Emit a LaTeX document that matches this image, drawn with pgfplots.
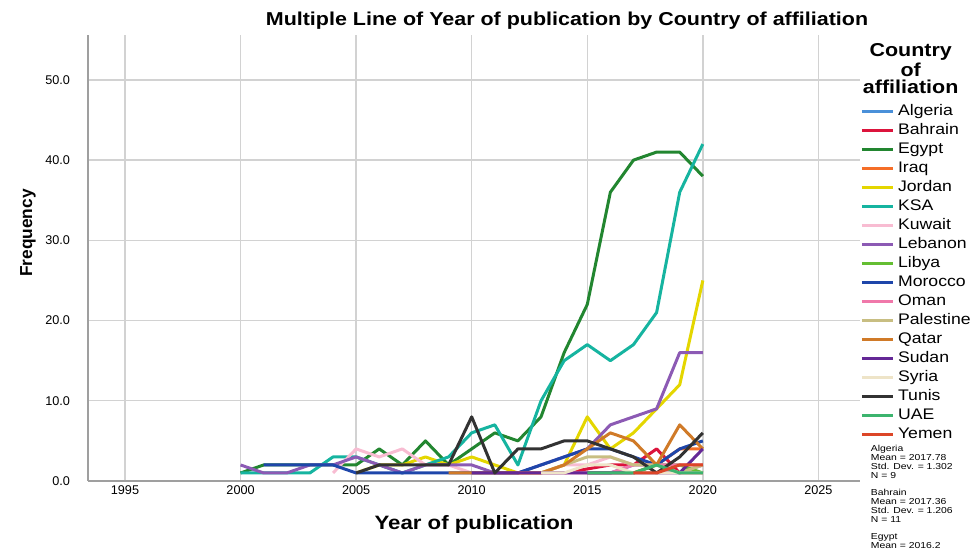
\documentclass[border=0pt]{standalone}
\usepackage{fontspec}
\setmainfont{Liberation Sans}
\usepackage{pgfplots}
\pgfplotsset{compat=1.18}

\definecolor{cAlg}{RGB}{74,144,217}
\definecolor{cBah}{RGB}{220,20,60}
\definecolor{cEgy}{RGB}{34,134,48}
\definecolor{cIrq}{RGB}{245,110,40}
\definecolor{cJor}{RGB}{228,214,0}
\definecolor{cKSA}{RGB}{22,180,160}
\definecolor{cKuw}{RGB}{248,188,210}
\definecolor{cLeb}{RGB}{140,90,180}
\definecolor{cLib}{RGB}{100,190,50}
\definecolor{cMor}{RGB}{30,70,170}
\definecolor{cOma}{RGB}{240,120,170}
\definecolor{cPal}{RGB}{200,190,130}
\definecolor{cQat}{RGB}{208,122,40}
\definecolor{cSud}{RGB}{100,40,150}
\definecolor{cSyr}{RGB}{238,228,200}
\definecolor{cTun}{RGB}{50,50,50}
\definecolor{cUAE}{RGB}{60,180,110}
\definecolor{cYem}{RGB}{220,70,40}

\newcommand\wide[1]{\scalebox{1.15}[1]{#1}}

\begin{document}
\begin{tikzpicture}
\useasboundingbox (0,0) rectangle (728.25pt,411.75pt);
\clip (0,0) rectangle (728.25pt,411.75pt);
\begin{axis}[
    at={(66pt,51pt)}, anchor=south west,
    scale only axis,
    width=579pt, height=334.5pt,
    xmin=1993.4, xmax=2026.8,
    ymin=0, ymax=55.6,
    xtick={1995,2000,...,2025},
    ytick={0,10,...,50},
    /pgf/number format/assume math mode=true,
    xticklabel style={/pgf/number format/1000 sep={}, font=\fontsize{9.5}{11}\selectfont},
    yticklabel style={/pgf/number format/.cd, fixed, fixed zerofill, precision=1,
                      /tikz/.cd, font=\fontsize{9.5}{11}\selectfont, xshift=-10pt},
    major tick length=0pt,
    axis lines=left,
    axis line style={-, draw=gray!75, line width=1.2pt},
    grid=major,
    major grid style={gray!35, line width=1pt},
    every axis plot/.append style={line width=2.25pt, line join=round},
    legend style={at={(0.995,0.851)}, anchor=north west, draw=none, fill=none,
                  font=\fontsize{11.5}{13}\selectfont, row sep=3.25pt,
                  nodes={inner sep=0pt, text height=8.5pt, text depth=2.5pt},
                  /tikz/every odd column/.append style={column sep=3pt}},
    legend cell align=left,
    legend image code/.code={\draw[#1, line width=2.25pt] (0pt,0pt) -- (23pt,0pt);},
]
\addplot[cAlg] coordinates {(2015,1)(2016,1)(2017,2)(2018,2)(2019,1)(2020,2)};
\addlegendentry{\wide{Algeria}}
\addplot[cBah] coordinates {(2014,1)(2016,2)(2017,2)(2018,4)(2019,1)(2020,1)};
\addlegendentry{\wide{Bahrain}}
\addplot[cEgy] coordinates {(2000,1)(2001,2)(2002,2)(2003,2)(2004,2)(2005,2)(2006,4)(2007,2)(2008,5)(2009,2)(2010,4)(2011,6)(2012,5)(2013,8)(2014,16)(2015,22)(2016,36)(2017,40)(2018,41)(2019,41)(2020,38)};
\addlegendentry{\wide{Egypt}}
\addplot[cIrq] coordinates {(2015,1)(2016,1)(2017,1)(2018,2)(2019,4)(2020,4)};
\addlegendentry{\wide{Iraq}}
\addplot[cJor] coordinates {(2005,1)(2006,2)(2007,2)(2008,3)(2009,2)(2010,3)(2011,2)(2012,1)(2013,1)(2014,2)(2015,8)(2016,4)(2017,6)(2018,9)(2019,12)(2020,25)};
\addlegendentry{\wide{Jordan}}
\addplot[cKSA] coordinates {(2000,1)(2001,1)(2002,1)(2003,1)(2004,3)(2005,3)(2006,2)(2007,1)(2008,2)(2009,3)(2010,6)(2011,7)(2012,2)(2013,10)(2014,15)(2015,17)(2016,15)(2017,17)(2018,21)(2019,36)(2020,42)};
\addlegendentry{\wide{KSA}}
\addplot[cKuw] coordinates {(2004,1)(2005,4)(2006,3)(2007,4)(2008,2)(2009,2)(2010,1)(2011,1)(2012,1)(2013,1)(2014,2)(2015,2)(2016,3)(2017,2)(2018,2)(2019,1)(2020,2)};
\addlegendentry{\wide{Kuwait}}
\addplot[cLeb] coordinates {(2000,2)(2001,1)(2002,1)(2003,2)(2004,2)(2005,3)(2006,2)(2007,1)(2008,2)(2009,2)(2010,2)(2011,1)(2012,1)(2013,2)(2014,3)(2015,4)(2016,7)(2017,8)(2018,9)(2019,16)(2020,16)};
\addlegendentry{\wide{Lebanon}}
\addplot[cLib] coordinates {(2017,1)(2018,2)(2019,2)(2020,1)};
\addlegendentry{\wide{Libya}}
\addplot[cMor] coordinates {(2001,2)(2002,2)(2003,2)(2004,2)(2005,1)(2006,1)(2007,1)(2008,1)(2009,1)(2010,1)(2011,1)(2012,1)(2013,2)(2014,3)(2015,4)(2016,4)(2017,3)(2018,2)(2019,4)(2020,5)};
\addlegendentry{\wide{Morocco}}
\addplot[cOma] coordinates {(2012,1)(2013,1)(2014,1)(2015,1)(2016,1)(2017,2)(2018,2)(2019,2)(2020,2)};
\addlegendentry{\wide{Oman}}
\addplot[cPal] coordinates {(2013,1)(2014,2)(2015,3)(2016,3)(2017,2)(2018,2)(2019,1)(2020,2)};
\addlegendentry{\wide{Palestine}}
\addplot[cQat] coordinates {(2009,1)(2010,1)(2011,1)(2012,1)(2013,1)(2014,2)(2015,4)(2016,6)(2017,5)(2018,2)(2019,7)(2020,4)};
\addlegendentry{\wide{Qatar}}
\addplot[cSud] coordinates {(2010,1)(2011,1)(2012,1)(2013,1)(2014,1)(2015,1)(2016,1)(2017,1)(2018,1)(2019,1)(2020,4)};
\addlegendentry{\wide{Sudan}}
\addplot[cSyr] coordinates {(2013,1)(2014,1)(2015,2)(2016,2)(2017,1)(2018,1)(2019,1)(2020,1)};
\addlegendentry{\wide{Syria}}
\addplot[cTun] coordinates {(2005,1)(2006,2)(2007,2)(2008,2)(2009,2)(2010,8)(2011,1)(2012,4)(2013,4)(2014,5)(2015,5)(2016,4)(2017,3)(2018,1)(2019,3)(2020,6)};
\addlegendentry{\wide{Tunis}}
\addplot[cUAE] coordinates {(2015,1)(2016,1)(2017,1)(2018,2)(2019,1)(2020,1)};
\addlegendentry{\wide{UAE}}
\addplot[cYem] coordinates {(2017,1)(2018,1)(2019,2)(2020,2)};
\addlegendentry{\wide{Yemen}}
\end{axis}
% titles and labels
\node[font=\bfseries\fontsize{14}{16}\selectfont] at (425.25pt,396pt) {\wide{Multiple Line of Year of publication by Country of affiliation}};
\node[font=\bfseries\fontsize{13}{15}\selectfont, rotate=90] at (21pt,237pt) {Frequency};
\node[font=\bfseries\fontsize{14.5}{16}\selectfont] at (355.5pt,18pt) {\wide{Year of publication}};
\node[font=\bfseries\fontsize{14}{16}\selectfont] at (683pt,372.5pt) {\wide{Country}};
\node[font=\bfseries\fontsize{14}{16}\selectfont] at (683pt,359.5pt) {\wide{of}};
\node[font=\bfseries\fontsize{14}{16}\selectfont] at (683pt,346.5pt) {\wide{affiliation}};
% summary statistics
\node[anchor=north west, inner sep=0pt, align=left, font=\fontsize{6.5}{6.75}\selectfont] at (653pt,78pt)
  {\scalebox{1.2}[1]{Algeria}\\\scalebox{1.2}[1]{Mean = 2017.78}\\\scalebox{1.2}[1]{Std. Dev. = 1.302}\\\scalebox{1.2}[1]{N = 9}};
\node[anchor=north west, inner sep=0pt, align=left, font=\fontsize{6.5}{6.75}\selectfont] at (653pt,45pt)
  {\scalebox{1.2}[1]{Bahrain}\\\scalebox{1.2}[1]{Mean = 2017.36}\\\scalebox{1.2}[1]{Std. Dev. = 1.206}\\\scalebox{1.2}[1]{N = 11}};
\node[anchor=north west, inner sep=0pt, align=left, font=\fontsize{6.5}{6.75}\selectfont] at (653pt,12pt)
  {\scalebox{1.2}[1]{Egypt}\\\scalebox{1.2}[1]{Mean = 2016.2}};
\end{tikzpicture}
\end{document}
